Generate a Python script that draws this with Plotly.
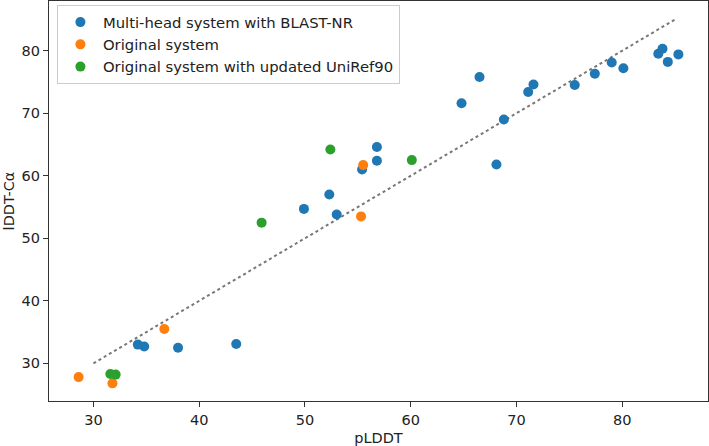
import plotly.graph_objects as go

# values
blast_x = [49.9, 52.3, 53.0, 55.4, 56.8, 56.8, 64.8, 66.5, 68.8, 68.1, 71.1, 71.6,
           75.5, 77.4, 79.0, 80.1, 83.4, 83.8, 84.3, 85.3, 34.2, 34.8, 38.0, 43.5]
blast_y = [54.7, 57.0, 53.8, 61.0, 64.6, 62.4, 71.6, 75.8, 69.0, 61.8, 73.4, 74.6,
           74.5, 76.3, 78.1, 77.2, 79.5, 80.3, 78.2, 79.4, 33.0, 32.7, 32.5, 33.1]

orig_x = [55.5, 55.3, 36.7, 28.6, 31.8]
orig_y = [61.7, 53.5, 35.5, 27.8, 26.8]

uniref_x = [52.4, 45.9, 60.1, 31.6, 32.1]
uniref_y = [64.2, 52.5, 62.5, 28.3, 28.2]

diag = [30, 85]

font_family = 'DejaVu Sans, sans-serif'

fig = go.Figure()

fig.add_trace(go.Scatter(
    x=diag, y=diag, mode='lines',
    line=dict(color='#777777', width=2, dash='dot'),
    showlegend=False, hoverinfo='skip'
))

series = [
    ('Multi-head system with BLAST-NR', blast_x, blast_y, '#1f77b4'),
    ('Original system', orig_x, orig_y, '#ff7f0e'),
    ('Original system with updated UniRef90', uniref_x, uniref_y, '#2ca02c'),
]
for name, xs, ys, color in series:
    fig.add_trace(go.Scatter(
        x=xs, y=ys, mode='markers', name=name,
        marker=dict(color=color, size=10, line=dict(width=0))
    ))

axis_style = dict(
    showline=True, linewidth=1.2, linecolor='#333333', mirror=True,
    showgrid=False, zeroline=False,
    ticks='outside', ticklen=5, tickwidth=1, tickcolor='#333333',
    tickfont=dict(size=14.5, color='#222222'),
    dtick=10,
)

fig.update_layout(
    width=709, height=446,
    margin=dict(l=49, r=1, t=1, b=45),
    plot_bgcolor='white', paper_bgcolor='white',
    font=dict(family=font_family, size=14.5, color='#222222'),
    legend=dict(
        x=0.012, y=0.99, xanchor='left', yanchor='top',
        bordercolor='#cccccc', borderwidth=1, bgcolor='rgba(255,255,255,0.8)',
        font=dict(size=14.8), tracegroupgap=0, itemwidth=35,
    ),
    showlegend=True,
)

fig.update_xaxes(axis_style, range=[25.8, 88.1],
                 title=dict(text='pLDDT', standoff=8, font=dict(size=14.5)),
                 automargin=False)
fig.update_yaxes(axis_style, range=[23.98, 87.94],
                 title=dict(text='lDDT-Cα', standoff=3, font=dict(size=14.5)),
                 automargin=False)

fig.write_html("out.html", config={'displayModeBar': False},
               post_script="document.body.style.margin='0';")
